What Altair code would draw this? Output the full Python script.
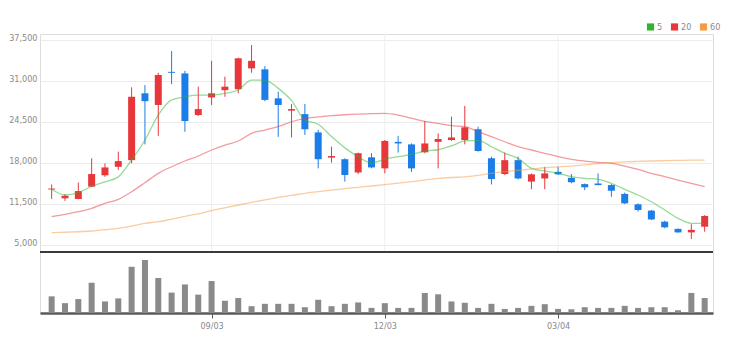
import altair as alt
import pandas as pd

# ---------------- data ----------------
opens = [13800, 12400, 12300, 14250, 16050, 17400, 18450, 29050, 27200, 32450,
         32200, 25600, 28400, 29550, 29700, 33000, 32850, 28250, 26300, 25750,
         22850, 18850, 18600, 16500, 18900, 17150, 21350, 20950, 19700, 21350,
         21650, 21650, 23350, 18750, 16250, 18450, 15050, 15550, 16600, 15650,
         14650, 14750, 14500, 13100, 11450, 10450, 8700, 7550, 7000, 7900]
closes = [13950, 12800, 13550, 16250, 17300, 18300, 28500, 27800, 31950, 32300,
          24650, 26550, 29050, 30100, 34600, 34200, 28000, 27200, 26550, 23350,
          18600, 19100, 16100, 19550, 17300, 21500, 21100, 17150, 21100, 21800,
          22050, 23650, 19900, 15450, 18450, 15550, 16200, 16350, 16200, 14950,
          14150, 14500, 13600, 11600, 10550, 9050, 7800, 7000, 7400, 9600]
highs = [14600, 13050, 14900, 18750, 17950, 19800, 30000, 30350, 32300, 35750,
         32600, 30100, 34200, 31700, 34700, 36700, 33350, 29300, 27350, 27350,
         23250, 20600, 18750, 19650, 19550, 21650, 22300, 21100, 24650, 22700,
         25350, 27050, 23750, 19000, 19650, 19000, 16350, 17400, 17400, 16250,
         14750, 16350, 14650, 13300, 11600, 10550, 8850, 7650, 8300, 9750]
lows = [12300, 12000, 12250, 14200, 15800, 16900, 17950, 20950, 22300, 30500,
        22950, 25450, 27200, 28500, 29050, 32300, 27800, 22150, 22050, 22450,
        17150, 18050, 15050, 16250, 17150, 16350, 19650, 16600, 19550, 17150,
        21500, 20950, 19800, 14600, 16100, 15400, 13850, 13850, 16100, 14800,
        13700, 14450, 12650, 11500, 10300, 8950, 7650, 6950, 5950, 7100]
volumes = [49, 29, 41, 89, 34, 43, 136, 156, 103, 60,
           84, 54, 94, 36, 44, 20, 27, 27, 27, 17,
           39, 20, 27, 31, 15, 29, 15, 15, 59, 55,
           34, 30, 15, 27, 12, 15, 21, 26, 12, 11,
           17, 15, 15, 21, 15, 17, 17, 8, 59, 44]
ma5 = [13830, 12925, 13300, 14300, 15000, 15800, 18475, 21640, 25600, 28000,
       28500, 28775, 28775, 29045, 29570, 31150, 31150, 29830, 27900, 24800,
       24150, 22200, 20400, 19000, 18000, 18600, 19000, 19350, 19900, 20100,
       20700, 21500, 21600, 20580, 19535, 18740, 17160, 16730, 16360, 15825,
       15570, 15410, 14780, 13830, 12925, 11860, 10550, 9230, 8440, 8440]
ma20 = [9490, 9860, 10280, 10820, 11610, 12245, 13450, 14875, 16360, 17410,
        18315, 19110, 20060, 20850, 21485, 22700, 23230, 23750, 24540, 25080,
        25300, 25500, 25650, 25750, 25820, 25870, 25600, 25100, 24600, 24290,
        23910, 23750, 22960, 22170, 21370, 20580, 20060, 19530, 19000, 18580,
        18310, 18110, 17950, 17520, 17000, 16360, 15825, 15300, 14780, 14240]
ma60 = [6950, 7020, 7100, 7220, 7420, 7650, 8000, 8440, 8690, 9100,
        9550, 9950, 10450, 10900, 11340, 11750, 12150, 12550, 12850, 13200,
        13450, 13700, 13950, 14150, 14350, 14570, 14800, 15050, 15300, 15550,
        15700, 15800, 16050, 16350, 16620, 16850, 17050, 17250, 17380, 17520,
        17700, 17900, 18050, 18170, 18250, 18320, 18370, 18420, 18450, 18470]
tick_idx = [12, 25, 38]
tick_labels = ["09/03", "12/03", "03/04"]
y_ticks = [5000, 11500, 18000, 24500, 31000, 37500]
ma_names = ["5", "20", "60"]

# ---------------- styling ----------------
FONT = "DejaVu Sans Condensed"
UP = "#e8373a"
DOWN = "#1b7de8"
MA_COLORS = ["#2fb52f", "#e8383d", "#f59b42"]
PRICE_DOMAIN = [-5781, 38451]
PRICE_FLOOR = 3890
VOL_DOMAIN = [0, 821]
X_DOMAIN = [-0.5, 49.25]

n = len(opens)
df = pd.DataFrame({"i": list(range(n)), "open": opens, "close": closes,
                   "high": highs, "low": lows, "vol": volumes})
ma_df = pd.concat([
    pd.DataFrame({"i": list(range(n)), "ma": name, "v": vals})
    for name, vals in zip(ma_names, [ma5, ma20, ma60])
], ignore_index=True)
grid_df = pd.DataFrame({"i": tick_idx, "y0": [PRICE_FLOOR] * len(tick_idx),
                        "y1": [PRICE_DOMAIN[1]] * len(tick_idx)})
floor_df = pd.DataFrame({"y": [PRICE_FLOOR]})

label_expr = " : ".join(f"datum.value == {v} ? '{l}'" for v, l in zip(tick_idx, tick_labels)) + " : ''"

x_enc = alt.X("i:Q",
              scale=alt.Scale(domain=X_DOMAIN, nice=False, zero=False),
              axis=alt.Axis(values=tick_idx, labelExpr=label_expr, grid=False,
                            domainColor="#5a5a5a", domainWidth=2.5,
                            tickColor="#5a5a5a", tickSize=5, tickWidth=1,
                            labelColor="#8a8a8a", labelFont=FONT, labelFontSize=9,
                            labelPadding=3, title=None))

price_scale = alt.Scale(domain=PRICE_DOMAIN, nice=False, zero=False)
price_axis = alt.Axis(values=y_ticks, labelExpr="format(datum.value, ',')",
                      grid=True, gridColor="#ececec",
                      gridWidth=1, domain=False, ticks=False,
                      labelColor="#8a8a8a", labelFont=FONT, labelFontSize=9,
                      labelPadding=3, labelOffset=-2, title=None)

def py(field):
    return alt.Y(field, scale=price_scale, axis=price_axis)

vgrid = alt.Chart(grid_df).mark_rule(color="#eeeeee", strokeWidth=1).encode(
    x=x_enc, y=py("y0:Q"), y2="y1:Q")

floor = alt.Chart(floor_df).mark_rule(color="#3a3a3a", strokeWidth=2).encode(
    y=py("y:Q"))

color_cond = alt.condition("datum.close >= datum.open", alt.value(UP), alt.value(DOWN))

wicks = alt.Chart(df).mark_rule(strokeWidth=1).encode(
    x=x_enc, y=py("low:Q"), y2="high:Q", color=color_cond)

bodies = alt.Chart(df).mark_bar(size=7).encode(
    x=x_enc, y=py("open:Q"), y2="close:Q", color=color_cond)

ma_scale = alt.Scale(domain=ma_names, range=MA_COLORS)

lines = alt.Chart(ma_df).mark_line(strokeWidth=1.3, opacity=0.5, interpolate="monotone").encode(
    x=x_enc, y=py("v:Q"),
    color=alt.Color("ma:N", scale=ma_scale,
                    legend=alt.Legend(orient="none", legendX=606, legendY=-12,
                                      direction="horizontal", title=None,
                                      symbolType="square", symbolSize=10,
                                      symbolStrokeWidth=4, symbolOpacity=1,
                                      labelFont=FONT, labelFontSize=9,
                                      labelColor="#8a8a8a", labelOffset=2,
                                      columnPadding=1)),
    detail="ma:N")

price_layer = alt.layer(vgrid, floor, wicks, bodies, lines)

vol_layer = alt.Chart(df).mark_bar(size=6, color="#8a8a8a").encode(
    x=x_enc,
    y=alt.Y("vol:Q", scale=alt.Scale(domain=VOL_DOMAIN, nice=False, zero=True), axis=None))

chart = alt.layer(price_layer, vol_layer).resolve_scale(y="independent").properties(
    width=673, height=279,
    autosize=alt.AutoSizeParams(type="none"),
    padding={"left": 40, "top": 34, "right": 19, "bottom": 38},
).configure_view(stroke=None).configure(background="white")

chart.save("out.html", embed_options={"renderer": "svg", "actions": False})
